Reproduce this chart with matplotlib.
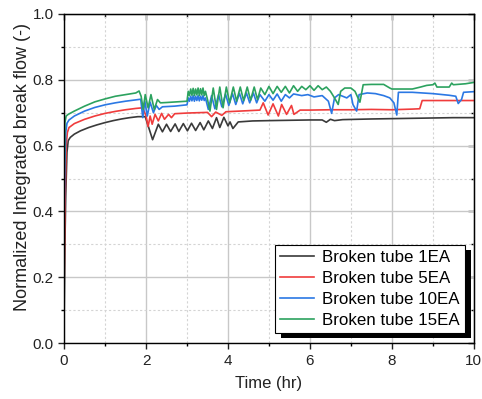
import numpy as np
import matplotlib
matplotlib.use('Agg')
import matplotlib.pyplot as plt
from matplotlib.patches import Rectangle
from matplotlib.ticker import MultipleLocator

plt.rcParams['font.family'] = ['Liberation Sans', 'DejaVu Sans']

# Broken tube 1EA
t_1ea = [0, 0.02, 0.04, 0.07, 0.1, 0.15, 0.25, 0.4, 0.6, 0.8, 1.0, 1.2, 1.4, 1.6, 1.8, 1.98,
         2.16, 2.30, 2.40, 2.50, 2.60, 2.71, 2.80, 2.91, 3.01, 3.11, 3.21, 3.32, 3.41, 3.52,
         3.62, 3.72, 3.80, 3.90, 4.0, 4.05, 4.12, 4.25, 4.6, 5.0, 5.5, 6.0, 6.3, 6.4, 6.5,
         6.6, 6.8, 7.5, 8.0, 8.5, 9.0, 9.5, 10.0]
v_1ea = [0.08, 0.3, 0.45, 0.58, 0.615, 0.625, 0.635, 0.645, 0.655, 0.663, 0.67, 0.676, 0.681,
         0.685, 0.688, 0.688,
         0.618, 0.665, 0.642, 0.665, 0.643, 0.666, 0.643, 0.667, 0.645, 0.668, 0.646, 0.670,
         0.648, 0.675, 0.652, 0.685, 0.655, 0.686, 0.66, 0.672, 0.652, 0.672, 0.675, 0.676,
         0.677, 0.678, 0.678, 0.671, 0.68, 0.676, 0.679, 0.681, 0.682, 0.683, 0.684, 0.685,
         0.685]

# Broken tube 5EA
t_5ea = [0, 0.02, 0.05, 0.08, 0.12, 0.25, 0.5, 0.75, 1.0, 1.25, 1.5, 1.75, 1.92, 2.0, 2.05,
         2.1, 2.15, 2.22, 2.3, 2.38, 2.45, 2.55, 2.62, 2.7, 3.0, 3.5, 3.6, 3.7, 3.85, 3.95,
         4.3, 4.78, 4.86, 4.98, 5.1, 5.23, 5.31, 5.43, 5.55, 5.61, 5.76, 6.0, 6.5, 7.0, 7.5,
         8.0, 8.5, 8.68, 8.74, 9.0, 10.0]
v_5ea = [0.17, 0.4, 0.6, 0.64, 0.655, 0.667, 0.68, 0.69, 0.698, 0.704, 0.709, 0.713, 0.715,
         0.69, 0.658, 0.69, 0.665, 0.695, 0.675, 0.698, 0.68, 0.695, 0.685, 0.697, 0.699,
         0.701, 0.688, 0.702, 0.692, 0.703, 0.705, 0.708, 0.73, 0.693, 0.727, 0.69, 0.725,
         0.695, 0.722, 0.695, 0.708, 0.708, 0.709, 0.709, 0.71, 0.709, 0.711, 0.712, 0.737,
         0.737, 0.737]

# Broken tube 10EA
t_10ea = [0, 0.02, 0.04, 0.07, 0.12, 0.25, 0.5, 0.75, 1.0, 1.25, 1.5, 1.75, 1.87, 1.92,
          1.97, 2.03, 2.1, 2.18, 2.25, 2.32, 2.4, 2.7, 3.0, 3.03, 3.06, 3.09, 3.12, 3.15,
          3.18, 3.21, 3.24, 3.27, 3.3, 3.33, 3.36, 3.39, 3.42, 3.45, 3.52, 3.6, 3.68, 3.77,
          3.85, 3.94, 4.02, 4.11, 4.19, 4.28, 4.36, 4.45, 4.53, 4.62, 4.7, 4.78, 4.9, 5.0,
          5.1, 5.2, 5.3, 5.4, 5.5, 5.6, 5.8, 5.95, 6.1, 6.3, 6.45, 6.53, 6.6, 6.7, 6.9, 7.0,
          7.05, 7.14, 7.2, 7.4, 7.6, 7.8, 7.95, 8.05, 8.12, 8.16, 8.5, 9.0, 9.4, 9.56, 9.62,
          9.7, 9.75, 10.0]
v_10ea = [0.37, 0.55, 0.64, 0.668, 0.678, 0.69, 0.705, 0.716, 0.724, 0.73, 0.735, 0.739,
          0.741, 0.685, 0.735, 0.69, 0.732, 0.7, 0.722, 0.71, 0.718, 0.72, 0.724, 0.745,
          0.735, 0.75, 0.736, 0.752, 0.735, 0.75, 0.737, 0.752, 0.736, 0.75, 0.738, 0.752,
          0.737, 0.745, 0.71, 0.752, 0.712, 0.755, 0.718, 0.757, 0.722, 0.758, 0.725, 0.759,
          0.727, 0.76, 0.73, 0.76, 0.73, 0.755, 0.735, 0.755, 0.738, 0.757, 0.735, 0.755,
          0.745, 0.757, 0.752, 0.755, 0.748, 0.752, 0.735, 0.698, 0.745, 0.755, 0.745, 0.755,
          0.725, 0.705, 0.755, 0.76, 0.758, 0.752, 0.745, 0.73, 0.693, 0.762, 0.762, 0.758,
          0.753, 0.75, 0.728, 0.74, 0.762, 0.764]

# Broken tube 15EA
t_15ea = [0, 0.02, 0.05, 0.1, 0.25, 0.5, 0.75, 1.0, 1.25, 1.5, 1.75, 1.83, 1.88, 1.93, 1.98,
          2.05, 2.12, 2.2, 2.28, 2.35, 2.5, 3.0, 3.03, 3.06, 3.09, 3.12, 3.15, 3.18, 3.21,
          3.24, 3.27, 3.3, 3.33, 3.36, 3.39, 3.42, 3.45, 3.5, 3.56, 3.64, 3.72, 3.8, 3.88,
          3.96, 4.04, 4.13, 4.21, 4.3, 4.38, 4.47, 4.55, 4.64, 4.72, 4.8, 4.9, 5.0, 5.1, 5.2,
          5.3, 5.4, 5.5, 5.6, 5.7, 5.8, 5.9, 6.0, 6.1, 6.2, 6.3, 6.4, 6.5, 6.6, 6.69, 6.75,
          6.85, 7.0, 7.1, 7.22, 7.3, 7.5, 7.8, 7.95, 8.0, 8.5, 8.7, 8.85, 9.0, 9.05, 9.1, 9.4,
          9.46, 9.5, 9.8, 10.0]
v_15ea = [0.5, 0.67, 0.69, 0.695, 0.705, 0.72, 0.733, 0.742, 0.75, 0.755, 0.76, 0.766, 0.75,
          0.71, 0.755, 0.715, 0.755, 0.71, 0.74, 0.73, 0.731, 0.735, 0.765, 0.752, 0.772,
          0.753, 0.774, 0.752, 0.772, 0.754, 0.775, 0.752, 0.773, 0.754, 0.775, 0.752, 0.765,
          0.74, 0.705, 0.775, 0.71, 0.778, 0.715, 0.778, 0.73, 0.778, 0.735, 0.778, 0.737,
          0.778, 0.738, 0.778, 0.74, 0.775, 0.755, 0.78, 0.758, 0.78, 0.762, 0.78, 0.76,
          0.782, 0.765, 0.78, 0.77, 0.782, 0.768, 0.782, 0.77, 0.778, 0.765, 0.745, 0.725,
          0.765, 0.775, 0.775, 0.765, 0.732, 0.785, 0.786, 0.786, 0.775, 0.772, 0.772, 0.778,
          0.783, 0.785, 0.79, 0.778, 0.778, 0.79, 0.785, 0.788, 0.792]

series = [
    (t_1ea, v_1ea, '#3a3a3a', 'Broken tube 1EA'),
    (t_5ea, v_5ea, '#f03c3c', 'Broken tube 5EA'),
    (t_10ea, v_10ea, '#2b78e4', 'Broken tube 10EA'),
    (t_15ea, v_15ea, '#2ca25f', 'Broken tube 15EA'),
]

fig = plt.figure(figsize=(4.82, 3.99), dpi=100)
ax = fig.add_axes([0.133, 0.140, 0.850, 0.825])

for t, v, c, lab in series:
    ax.plot(t, v, color=c, lw=1.2, label=lab)

ax.set_xlim(0, 10)
ax.set_ylim(0, 1.0)
ax.xaxis.set_major_locator(MultipleLocator(2))
ax.xaxis.set_minor_locator(MultipleLocator(1))
ax.yaxis.set_major_locator(MultipleLocator(0.2))
ax.yaxis.set_minor_locator(MultipleLocator(0.1))
ax.grid(which='major', color='#c8c8c8', lw=1.0, ls='-')
ax.grid(which='minor', color='#d4d4d4', lw=0.8, ls=(0, (2, 2)))
ax.set_axisbelow(True)
ax.tick_params(which='major', direction='out', length=4, width=1.0, labelsize=11,
               colors='#222222')
ax.tick_params(which='minor', direction='out', length=2.5, width=1.0)
for s in ax.spines.values():
    s.set_linewidth(1.0)

# top / right axes with inward ticks, no labels
top = ax.secondary_xaxis('top')
top.xaxis.set_major_locator(MultipleLocator(2))
top.xaxis.set_minor_locator(MultipleLocator(1))
top.tick_params(which='both', direction='in', labeltop=False, width=1.0)
top.tick_params(which='major', length=4)
top.tick_params(which='minor', length=2.5)
right = ax.secondary_yaxis('right')
right.yaxis.set_major_locator(MultipleLocator(0.2))
right.yaxis.set_minor_locator(MultipleLocator(0.1))
right.tick_params(which='both', direction='in', labelright=False, width=1.0)
right.tick_params(which='major', length=4)
right.tick_params(which='minor', length=2.5)

ax.set_xlabel('Time (hr)', fontsize=12, color='#222222', labelpad=6)
ax.set_ylabel('Normalized Integrated break flow (-)', fontsize=13, color='#222222')
ax.yaxis.set_label_coords(-0.082, 0.535)

leg = ax.legend(loc='lower right', bbox_to_anchor=(0.978, 0.030), borderaxespad=0,
                fontsize=12.2, fancybox=False, framealpha=1, edgecolor='black',
                handlelength=2.0, labelspacing=0.36, borderpad=0.3, handletextpad=0.5)
leg.get_frame().set_linewidth(0.8)

# black drop shadow behind the legend box
fig.canvas.draw()
bb = leg.get_window_extent().transformed(ax.transAxes.inverted())
dx = 6 / (0.850 * 482)
dy = 5 / (0.825 * 399)
ax.add_patch(Rectangle((bb.x0 + dx, bb.y0 - dy), bb.width, bb.height, transform=ax.transAxes,
                       facecolor='black', edgecolor='none', clip_on=False, zorder=4.9))

fig.savefig('out.png', dpi=100)
